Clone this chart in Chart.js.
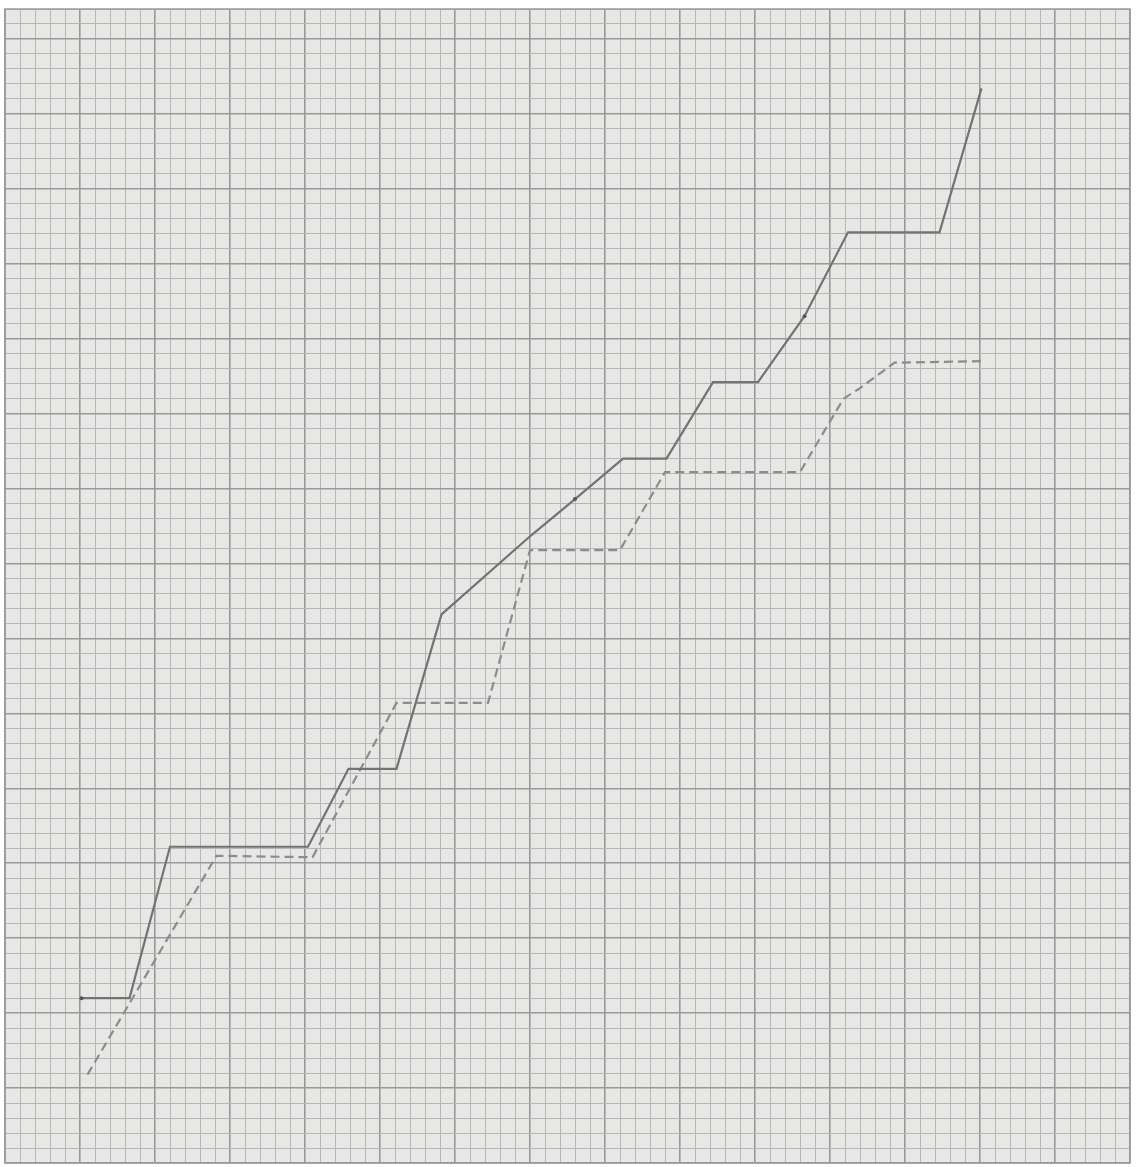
<!DOCTYPE html>
<html>
<head>
<meta charset="utf-8">
<script src="https://cdn.jsdelivr.net/npm/chart.js@4"></script>
<style>
    html, body { margin: 0; padding: 0; background: #ffffff; }
    #wrap { width: 1138px; height: 1167px; }
</style>
</head>
<body>
<div id="wrap"><canvas id="paper-chart"></canvas></div>
<script>
// values, in small squares from the bottom left corner
const solid_x = [5.1, 8.3, 11.0, 20.2, 22.9, 26.1, 29.1, 35.1, 38.0, 41.2, 44.1, 47.2, 50.2, 53.3, 56.2, 62.3, 65.1]
const solid_y = [11.0, 11.0, 21.1, 21.1, 26.3, 26.3, 36.6, 41.9, 44.3, 47.0, 47.0, 52.1, 52.1, 56.5, 62.1, 62.1, 71.7]
const solid_dots = [0, 8, 13]

const dashed_x = [5.5, 14.1, 20.5, 26.1, 32.2, 35.0, 41.0, 44.0, 53.0, 55.9, 57.0, 59.3, 65.1]
const dashed_y = [5.9, 20.5, 20.4, 30.7, 30.7, 40.9, 40.9, 46.1, 46.1, 51.0, 51.7, 53.4, 53.5]

const x_max = 75
const y_max = 77

function to_points(xs, ys) {
    return xs.map((x, i) => ({x: x, y: ys[i]}))
}

function every_square(max) {
    let list = []
    for (let i = 0; i <= max; i++) list.push({value: i})
    return list
}

// paper colour behind the grid
const paper_plugin = {
    id: 'paper',
    beforeDraw(chart) {
        const {ctx, chartArea} = chart
        ctx.save()
        ctx.fillStyle = '#e7e7e5'
        ctx.fillRect(chartArea.left, chartArea.top, chartArea.right - chartArea.left, chartArea.bottom - chartArea.top)
        ctx.restore()
    },
    afterDraw(chart) {
        const {ctx, chartArea} = chart
        ctx.save()
        ctx.strokeStyle = '#9a9a9a'
        ctx.lineWidth = 1.5
        ctx.strokeRect(chartArea.left, chartArea.top, chartArea.right - chartArea.left, chartArea.bottom - chartArea.top)
        ctx.restore()
    }
}

const grid_opts = {
    drawTicks: false,
    color: c => (c.tick && c.tick.value % 5 === 0) ? '#999999' : '#b6b6b6',
    lineWidth: c => (c.tick && c.tick.value % 5 === 0) ? 1.6 : 1
}

const config = {
    type: 'line',
    data: {
        datasets: [
            {
                label: 'solid',
                data: to_points(solid_x, solid_y),
                borderColor: '#737373',
                borderWidth: 2.2,
                tension: 0,
                fill: false,
                pointRadius: solid_x.map((v, i) => solid_dots.includes(i) ? 2 : 0),
                pointBackgroundColor: '#555555',
                pointBorderWidth: 0
            }, {
                label: 'dashed',
                data: to_points(dashed_x, dashed_y),
                borderColor: '#8c8c8c',
                borderWidth: 2.2,
                borderDash: [9, 5],
                tension: 0,
                fill: false,
                pointRadius: 0
            }
        ]
    },
    options: {
        responsive: true,
        maintainAspectRatio: false,
        animation: false,
        layout: {padding: {left: 5, right: 8, top: 9, bottom: 3}},
        plugins: {legend: {display: false}, tooltip: {enabled: false}},
        scales: {
            x: {
                type: 'linear',
                min: 0,
                max: x_max,
                ticks: {display: false},
                afterBuildTicks: s => { s.ticks = every_square(x_max) },
                grid: grid_opts,
                border: {display: false}
            },
            y: {
                type: 'linear',
                min: 0,
                max: y_max,
                ticks: {display: false},
                afterBuildTicks: s => { s.ticks = every_square(y_max) },
                grid: grid_opts,
                border: {display: false}
            }
        }
    },
    plugins: [paper_plugin]
}

let paper_chart = new Chart(document.querySelector("#paper-chart"), config)
</script>
</body>
</html>
